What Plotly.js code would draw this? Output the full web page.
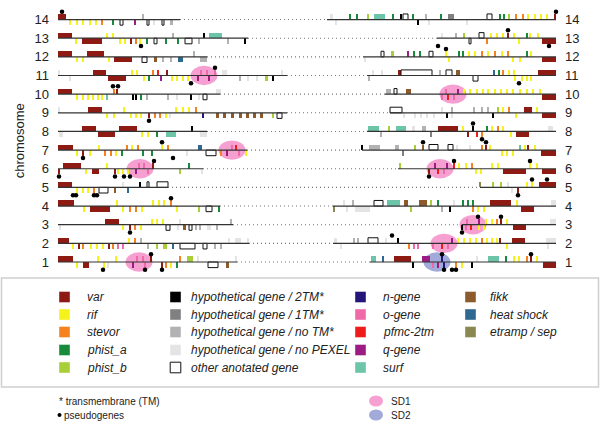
<!DOCTYPE html>
<html><head><meta charset="utf-8">
<script src="https://cdn.plot.ly/plotly-3.0.1.min.js"></script>
<style>html,body{margin:0;padding:0;background:#fff}#chart{width:600px;height:432px}</style>
</head><body><div id="chart"></div>
<script>
// ---------------- DATA ----------------
const chromosomes = [1,2,3,4,5,6,7,8,9,10,11,12,13,14];
const telomereLeft = 58, telomereRight = 556;
// end of the left-hand drawn segment and start of the right-hand drawn segment (chr 1..14)
const leftSegmentEnd   = [237,249,233,220,168,203,247,207,287,220,287,207,248,180];
const rightSegmentStart= [370,333,462,333,480,398,362,367,390,385,367,363,437,327];

// genes: [type, centre, strand]  (thin)  or  [type, start, end, strand]  (wide); strand 1 = above, -1 = below
const chr1 = [['v',58,73,1],['r',98,1],['r',116,1],['og',137,1],['og',143,1],['v',151,1],['s',180,1],['pb',187,193,1],['hn',198,1],['hn',236,1],
 ['r',77,-1],['v',83,89,-1],['r',104,-1],['hn',108,-1],['q',133,-1],['og',145,-1],['v',162,-1],['s',166,-1],['r',171,-1],['pa',177,-1],['o',208,218,-1],['fk',226,229,-1],
 ['sf',371,376,1],['hs',383,1],['v',394,411,1],['q',422,430,1],['n',442,1],['hn',477,1],['sf',488,499,1],['pa',506,1],['r',514,1],['r',519,1],['s',527,1],['v',531,1],['r',537,1],
 ['h2',413,-1],['og',433,-1],['q',438,-1],['n',444,-1],['s',456,-1],['r',462,-1],['h2',472,-1],['v',543,556,-1]];
const chr2 = [['v',58,69,1],['r',129,1],['s',135,1],['h0',141,1],['hn',229,1],['hn',235,241,1],['hn',248,1],
 ['r',73,-1],['v',79,-1],['s',83,-1],['r',91,-1],['r',97,-1],['r',103,-1],['v',109,-1],['s',113,-1],['og',118,-1],['og',123,-1],['h0',148,-1],['pb',157,-1],['pb',163,167,-1],['hs',173,-1],['o',180,195,-1],['o',203,207,-1],['h0',215,-1],['h0',221,-1],
 ['hn',334,337,1],['h0',354,1],['h0',358,1],['o',368,378,1],['hn',386,1],['h2',398,1],['q',452,1],['r',458,1],['r',464,1],['r',470,1],['r',476,1],['s',482,1],['r',487,1],['r',492,1],['r',497,1],['v',500,1],['v',512,525,1],['hn',546,556,1],
 ['hn',341,-1],['s',409,-1],['og',414,-1],['og',418,-1],['og',433,-1],['pf',442,-1],['og',448,-1],['r',507,-1],['hn',548,-1]];
const chr3 = [['v',105,119,1],['r',152,1],['r',157,1],['r',163,1],['hn',180,1],['h0',231,1],
 ['hn',60,-1],['r',123,-1],['v',130,-1],['s',135,-1],['r',141,-1],['o',166,170,-1],['hn',178,-1],['fk',183,186,-1],['o',189,192,-1],['h0',196,-1],['h0',200,-1],['hn',207,211,-1],['h0',217,-1],
 ['og',467,1],['q',479,1],['r',486,1],['r',492,1],['s',497,1],['v',501,1],['r',507,1],['hn',550,556,1],
 ['h2',462,-1],['og',466,-1],['pf',471,-1],['r',479,-1],['r',484,-1],['v',513,526,-1]];
const chr4 = [['v',58,74,1],['r',117,1],['r',153,1],['r',159,1],['r',164,1],['s',171,1],
 ['r',84,-1],['v',90,110,-1],['r',123,-1],['s',130,-1],['s',136,-1],['r',142,-1],['r',177,-1],['pb',199,-1],['o',206,212,-1],['pa',219,-1],
 ['hn',344,1],['h0',353,1],['o',374,383,1],['sf',387,400,1],['fk',404,408,1],['fk',419,427,1],['pb',431,1],['pa',438,1],['hn',454,1],['pa',463,1],['pa',468,1],['pa',473,1],['v',490,511,1],['r',517,1],['hn',551,556,1],
 ['et',334,-1],['hn',347,-1],['hn',355,370,-1],['pb',411,-1],['h0',442,-1],['h2',450,-1],['s',473,-1],['r',478,-1],['r',484,-1],['v',521,534,-1]];
const chr5 = [['v',58,72,1],['hn',123,1],['h2',140,1],['o',147,149,1],['o',157,168,1],
 ['r',77,-1],['r',83,-1],['r',88,-1],['s',94,-1],['o',99,108,-1],['fk',114,116,-1],['hs',127,129,-1],
 ['et',480,1],['pb',493,1],['pb',501,1],['hn',508,1],['r',527,1],['r',532,1],['v',539,556,1],
 ['hn',512,-1],['v',518,-1]];
const chr6 = [['v',63,81,1],['r',107,1],['og',139,1],['og',144,1],['v',153,1],['pa',189,1],
 ['v',59,-1],['r',86,-1],['v',92,99,-1],['v',115,-1],['r',118,-1],['r',123,-1],['r',128,-1],['q',136,-1],['og',148,-1],['pb',180,-1],['hn',202,-1],
 ['pb',400,1],['q',435,1],['q',447,1],['pf',454,1],['r',459,1],['r',466,1],['s',472,1],['r',492,1],['r',498,1],['r',530,1],['r',537,1],
 ['v',429,-1],['pf',438,-1],['og',444,-1],['r',476,-1],['r',481,-1],['v',503,526,-1],['v',542,556,-1]];
const chr7 = [['v',58,73,1],['r',99,1],['s',127,1],['r',132,1],['s',138,1],['r',162,1],['s',168,1],['hs',198,202,1],['og',232,1],['pf',236,1],
 ['r',77,-1],['v',83,-1],['r',90,-1],['s',105,-1],['s',111,-1],['r',116,-1],['pa',122,-1],['pa',143,-1],['pa',152,-1],['hn',187,-1],['o',206,216,-1],['s',221,-1],['q',227,-1],['og',239,-1],['r',246,-1],
 ['h2',362,1],['h0',369,380,1],['h0',395,399,1],['pb',415,1],['fk',423,1],['o',429,438,1],['o',448,453,1],['hn',457,1],['hn',470,1],['s',482,1],['v',486,1],['r',490,1],['sf',520,1],['r',525,1],['v',528,1],['r',535,1],
 ['h1',403,-1],['r',502,-1],['r',507,-1],['r',513,-1],['v',541,556,-1]];
const chr8 = [['v',82,96,1],['v',119,137,1],['h2',192,1],
 ['hn',59,63,-1],['v',98,115,-1],['r',142,-1],['r',148,-1],['pa',157,-1],['sf',166,176,-1],['hn',200,207,-1],
 ['sf',368,379,1],['pb',389,1],['sf',396,406,1],['hn',412,415,1],['h0',422,426,1],['v',438,458,1],['r',463,1],['h2',473,1],['pa',487,1],['r',492,1],['s',498,1],['r',503,1],['hn',548,553,1],
 ['h0',381,-1],['h1',431,-1],['v',468,-1],['pf',477,-1],['s',482,-1],['r',511,-1],['v',516,529,-1]];
const chr9 = [['hn',59,1],['v',88,102,1],['r',124,1],['r',176,1],['r',183,1],['r',189,1],['s',196,1],
 ['r',107,-1],['r',114,-1],['r',131,-1],['r',136,-1],['r',141,-1],['v',149,-1],['s',155,-1],['s',160,-1],['r',166,-1],['hn',170,-1],['n',203,-1],
 ['fk',216,219,-1],['fk',223,226,-1],['fk',231,234,-1],['fk',239,242,-1],['fk',246,249,-1],['fk',253,256,-1],['fk',260,263,-1],['pb',273,-1],['o',277,282,-1],
 ['o',390,402,1],['hn',442,1],['h0',452,1],['h0',474,1],['h0',482,1],['h0',488,1],['pb',498,1],['r',503,1],['s',509,1],['v',524,532,1],['r',537,1],
 ['hn',404,-1],['hn',415,-1],['hn',421,-1],['hn',427,-1],['hn',434,-1],['h2',447,-1],['hn',452,-1],['h2',493,-1],['r',516,-1],['v',542,556,-1]];
const chr10 = [['v',58,72,1],['s',114,1],['v',117,1],['hn',216,221,1],
 ['r',77,-1],['r',83,-1],['r',88,-1],['r',93,-1],['r',98,-1],['r',102,-1],['sf',107,-1],['h2',133,-1],['h2',136,-1],['pa',141,-1],['h0',147,-1],['h0',168,-1],['hn',177,-1],['h2',191,-1],['hn',199,-1],['o',203,207,-1],
 ['h0',386,391,1],['o',394,397,1],['fk',406,411,1],['og',446,1],['q',458,1],['r',464,1],['r',470,1],['r',477,1],['r',483,1],['r',488,1],['r',495,1],['r',501,1],['r',507,1],['r',513,1],['r',520,1],['r',527,1],['r',533,1],['r',540,1],
 ['og',442,-1],['pf',448,-1],['og',454,-1],['v',542,556,-1]];
const chr11 = [['hn',59,1],['v',93,106,1],['r',132,1],['r',137,1],['s',153,1],['pf',158,1],['v',167,1],['og',201,1],['og',207,1],['og',215,1],['hn',222,227,1],['hn',282,1],
 ['hn',70,-1],['v',108,126,-1],['r',144,-1],['pa',149,-1],['q',161,-1],['r',172,-1],['r',177,-1],['r',183,-1],['r',188,-1],['q',198,-1],['q',209,-1],['h0',240,-1],['hn',248,-1],['hn',257,-1],['pb',265,268,-1],['h2',273,-1],
 ['hn',373,1],['hn',382,1],['v',398,401,1],['o',401,432,1],['h0',440,1],['o',446,452,1],['fk',456,460,1],['hs',494,1],['pa',499,1],['s',503,1],['r',509,1],['r',514,1],['v',538,556,1],
 ['h0',369,-1],['o',473,478,-1],['r',515,-1],['r',522,-1],['r',527,-1],['r',531,-1]];
const chr12 = [['v',58,72,1],['v',87,104,1],['h0',194,1],
 ['r',77,-1],['r',83,-1],['r',109,-1],['v',114,132,-1],['o',142,147,-1],['fk',154,157,-1],['h0',163,-1],['h0',171,-1],['hs',178,183,-1],['h0',200,207,-1],
 ['o',381,384,1],['pb',391,394,1],['q',408,1],['pa',414,1],['pa',420,1],['o',429,433,1],['r',446,1],['pa',459,1],['pa',463,1],['r',469,1],['r',475,1],['s',482,1],['r',488,1],['s',495,1],['r',502,1],['s',508,1],['pa',527,1],['r',531,1],
 ['hn',365,-1],['r',449,-1],['r',513,-1],['r',520,-1],['v',542,556,-1]];
const chr13 = [['v',58,72,1],['r',107,1],['r',113,1],['h0',173,1],['h2',204,1],['sf',209,222,1],
 ['r',76,-1],['v',82,102,-1],['r',120,-1],['r',125,-1],['v',131,-1],['s',136,-1],['r',140,-1],['pa',147,-1],['o',154,157,-1],['pa',166,-1],['pa',178,-1],['o',185,192,-1],['h0',199,-1],['h0',228,-1],['h2',245,-1],
 ['hn',442,1],['h0',456,1],['pb',464,1],['o',479,484,1],['r',491,1],['r',497,1],['r',503,1],['v',508,1],['r',514,1],['pa',527,1],['r',530,1],['r',538,1],
 ['o',469,471,-1],['s',487,-1],['r',519,-1],['v',542,556,-1]];
const chr14 = [['v',58,66,1],['h0',143,1],
 ['r',70,-1],['r',77,-1],['r',83,-1],['r',90,-1],['r',96,-1],['s',102,-1],['pa',113,-1],['o',120,123,-1],['q',134,136,-1],['o',147,149,-1],['hn',154,-1],['o',162,164,-1],['h0',170,173,-1],
 ['hn',330,333,1],['pa',350,1],['pa',357,1],['pb',368,1],['sf',374,385,1],['pa',393,1],['h2',401,1],['o',403,408,1],['pa',413,1],['h0',426,1],['pa',441,1],['h1',448,454,1],['o',487,492,1],['pa',500,1],['pa',504,1],['pb',509,1],['s',516,1],['s',523,1],['r',528,1],['r',535,1],['r',541,1],['r',547,1],['v',555,1],
 ['hn',336,-1],['h2',418,-1],['hn',429,-1],['hn',467,-1]];
const genesByChromosome = [chr1,chr2,chr3,chr4,chr5,chr6,chr7,chr8,chr9,chr10,chr11,chr12,chr13,chr14];

// pseudogenes: [chromosome, position, strand]
const pseudogenes = [[14,62,1],[14,556,1],[13,141,-1],[13,508,1],[13,549,-1],[13,438,-1],[12,446,1],
 [11,215,1],[11,191,-1],[11,519,-1],[10,113,1],[10,118,1],[9,149,-1],[8,473,1],[8,482,-1],
 [7,162,1],[7,83,-1],[7,173,-1],[7,423,1],[7,486,1],
 [6,154,1],[6,59,-1],[6,115,-1],[6,124,-1],[6,130,-1],[6,454,1],[6,530,1],[6,429,-1],
 [5,73,-1],[5,76,-1],[5,94,-1],[5,97,-1],[5,532,1],[5,547,1],[5,518,-1],
 [4,171,1],[3,130,-1],[3,501,1],[3,462,-1],[3,478,1],[2,392,1],
 [1,151,1],[1,103,-1],[1,145,-1],[1,162,-1],[1,442,1],[1,531,1],[1,444,-1],[1,452,-1],[1,456,-1]];

// segmental duplications: [chromosome, centre, kind]
const sdRegions = [[11,204,'SD1'],[10,453,'SD1'],[7,232,'SD1'],[6,140,'SD1'],[6,440,'SD1'],[3,473,'SD1'],[2,444,'SD1'],[1,139,'SD1'],[1,437,'SD2']];

const geneTypes  = ['v','r','s','pa','pb','h2','h1','h0','hn','o','n','og','pf','q','sf','fk','hs','et'];
const geneLabels = ['var','rif','stevor','phist_a','phist_b','hypothetical gene / 2TM*','hypothetical gene / 1TM*','hypothetical gene / no TM*','hypothetical gene / no PEXEL','other anotated gene','n-gene','o-gene','pfmc-2tm','q-gene','surf','fikk','heat shock','etramp / sep'];
const geneColors = ['#8e1a14','#f6f21c','#f5821f','#178a3c','#a9cf38','#000000','#808080','#b2b2b2','#e4e4e4','#ffffff','#24157a','#ef6aa8','#f01c1c','#9b1d84','#6cc5a8','#8c5a2b','#2f6891','#8a8850'];
const legendColumns = [['v','r','s','pa','pb'],['h2','h1','h0','hn','o'],['n','og','pf','q','sf'],['fk','hs','et']];
const sdColors = {SD1:'#f6a0d2', SD2:'#a1aad9'};

// ---------------- DRAWING ----------------
const H = 0.3, THIN = 2, FONT = 'Liberation Sans, Arial, sans-serif';
const traces = [];
const bx=[], by=[], dx=[], dy=[];
chromosomes.forEach((c,i)=>{
  bx.push(telomereLeft, leftSegmentEnd[i], null, rightSegmentStart[i], telomereRight, null);
  by.push(c,c,null,c,c,null);
  dx.push(leftSegmentEnd[i], rightSegmentStart[i], null); dy.push(c,c,null);
});
traces.push({type:'scatter',mode:'lines',x:dx,y:dy,line:{color:'#777',width:1.1,dash:'1px,3px'},hoverinfo:'skip'});

geneTypes.forEach((t,ti)=>{
  const x=[],w=[],base=[],y=[];
  genesByChromosome.forEach((list,ci)=>{
    const c = chromosomes[ci];
    list.forEach(g=>{
      if(g[0]!==t) return;
      let cx, wd, s;
      if(g.length===3){cx=g[1]; wd=THIN; s=g[2];}
      else {cx=(g[1]+g[2])/2; wd=Math.max(g[2]-g[1],THIN); s=g[3];}
      x.push(cx); w.push(wd); y.push(H); base.push(s>0?c:c-H);
    });
  });
  const hollow = t==='o';
  traces.push({type:'bar',x,y,base,width:w,name:geneLabels[ti],
    marker:{color:geneColors[ti],line:{color:hollow?'#111':geneColors[ti],width:hollow?1:0}},hoverinfo:'skip'});
});
traces.push({type:'scatter',mode:'lines',x:bx,y:by,line:{color:'#333',width:1.2},hoverinfo:'skip'});
traces.push({type:'scatter',mode:'markers',x:pseudogenes.map(p=>p[1]),y:pseudogenes.map(p=>p[0]+p[2]*0.42),
  marker:{color:'#000',size:4.5},hoverinfo:'skip'});
// right-side axis labels carrier
traces.push({type:'scatter',mode:'markers',x:[telomereLeft],y:[1],yaxis:'y2',marker:{opacity:0},hoverinfo:'skip'});

const shapes = sdRegions.map(s=>({type:'circle',xref:'x',yref:'y',layer:'below',
  x0:s[1]-13.5,x1:s[1]+13.5,y0:s[0]-0.52,y1:s[0]+0.52,fillcolor:sdColors[s[2]],line:{width:0}}));

// legend (paper coordinates; page is 600x432 with no margins)
const px = v=>v/600, py = v=>1-v/432;
const annotations = [];
shapes.push({type:'rect',xref:'paper',yref:'paper',x0:px(1.5),x1:px(598.5),y0:py(387),y1:py(278),line:{color:'#cfcfcf',width:1.5},fillcolor:'rgba(0,0,0,0)'});
const colSwatchX=[64.5,175.5,360.5,470.5], colTextX=[85,189,381,488], rowY=[297,314.5,332,350,367.5];
legendColumns.forEach((col,ci)=>col.forEach((t,ri)=>{
  const ti = geneTypes.indexOf(t), hollow = t==='o';
  shapes.push({type:'rect',xref:'paper',yref:'paper',x0:px(colSwatchX[ci]-5.3),x1:px(colSwatchX[ci]+5.3),
    y0:py(rowY[ri]+5.3),y1:py(rowY[ri]-5.3),fillcolor:geneColors[ti],line:{color:hollow?'#111':geneColors[ti],width:hollow?1:0}});
  annotations.push({xref:'paper',yref:'paper',x:px(colTextX[ci]),y:py(rowY[ri]),xanchor:'left',yanchor:'middle',showarrow:false,
    text:'<i>'+geneLabels[ti]+'</i>',font:{family:FONT,size:12,color:'#222'}});
}));
annotations.push({xref:'paper',yref:'paper',x:px(57),y:py(401),xanchor:'left',yanchor:'middle',showarrow:false,text:'* transmembrane (TM)',font:{family:FONT,size:10,color:'#222'}});
annotations.push({xref:'paper',yref:'paper',x:px(62),y:py(415),xanchor:'left',yanchor:'middle',showarrow:false,text:'pseudogenes',font:{family:FONT,size:10,color:'#222'}});
shapes.push({type:'circle',xref:'paper',yref:'paper',x0:px(57.5),x1:px(61.5),y0:py(417),y1:py(413),fillcolor:'#000',line:{width:0}});
[['SD1',401],['SD2',415]].forEach(([k,yy])=>{
  shapes.push({type:'circle',xref:'paper',yref:'paper',x0:px(369),x1:px(383),y0:py(yy+5.5),y1:py(yy-5.5),fillcolor:sdColors[k],line:{width:0}});
  annotations.push({xref:'paper',yref:'paper',x:px(389),y:py(yy),xanchor:'left',yanchor:'middle',showarrow:false,text:k,font:{family:FONT,size:10,color:'#222'}});
});

const yBase = {range:[0,15],domain:[1-280.65/432,1-0.9/432],showgrid:false,zeroline:false,showline:false,ticks:'',
  tickvals:chromosomes,ticktext:chromosomes.map(String),tickfont:{family:FONT,size:13,color:'#222'},fixedrange:true};
const layout = {
  width:600,height:432,margin:{l:0,r:0,t:0,b:0},paper_bgcolor:'#fff',plot_bgcolor:'rgba(0,0,0,0)',
  showlegend:false,barmode:'overlay',bargap:0,
  xaxis:{range:[50,564],domain:[50/600,564/600],visible:false,fixedrange:true},
  yaxis:Object.assign({},yBase,{title:{text:'chromosome',font:{family:FONT,size:13,color:'#222'},standoff:6}}),
  yaxis2:Object.assign({},yBase,{overlaying:'y',side:'right',anchor:'x'}),
  shapes,annotations
};
Plotly.newPlot('chart',traces,layout,{staticPlot:true,displayModeBar:false});
</script></body></html>
